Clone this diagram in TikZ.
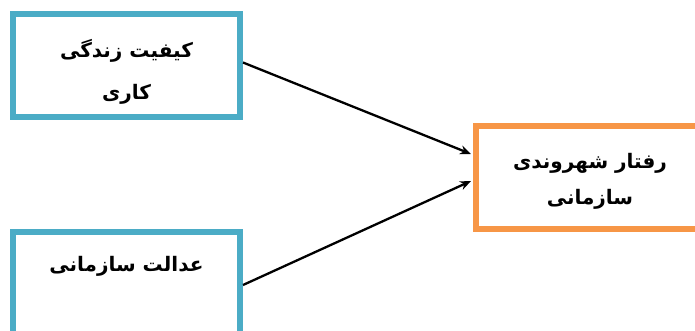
\documentclass[tikz,border=0pt]{standalone}
\usepackage{fontspec}
\usetikzlibrary{arrows.meta,calc}
\TeXXeTstate=1
\newfontfamily\arabicfont[Script=Arabic]{DejaVu Sans}
\definecolor{boxblue}{HTML}{4BACC6}
\definecolor{boxorange}{HTML}{F79646}
\tikzset{
  box/.style={draw, line width=6pt, fill=white, minimum width=227pt, minimum height=103pt, inner sep=0pt},
  bluebox/.style={box, draw=boxblue},
  orangebox/.style={box, draw=boxorange},
  txt/.style={font=\arabicfont\bfseries\fontsize{20}{42}\selectfont, align=center, inner sep=0pt},
  conn/.style={line width=2.3pt, -{Stealth[length=11pt,width=9pt]}}
}
\begin{document}
\begin{tikzpicture}[x=1pt,y=-1pt]
\useasboundingbox (0,0) rectangle (695,330);
\clip (0,0) rectangle (695,330);
\node[bluebox] (q) at (126.5,65.5) {};
\node[bluebox] (j) at (126.5,283) {};
\node[orangebox] (r) at (589.5,177) {};
\node[txt] (qt) at (126.5,72) {\beginR کیفیت زندگی\endR\\\beginR کاری\endR};
\node[txt] (jt) at (126.5,266) {\beginR عدالت سازمانی\endR};
\node[txt] (rt) at (590,181) {\beginR رفتار شهروندی\endR\\[-6pt]\beginR سازمانی\endR};
\draw[conn] ($(q.east)+(0,-3)$) -- ($(r.west)+(-2,-23)$);
\draw[conn] ($(j.east)+(0,2)$) -- ($(r.west)+(-2,4)$);
\end{tikzpicture}
\end{document}
